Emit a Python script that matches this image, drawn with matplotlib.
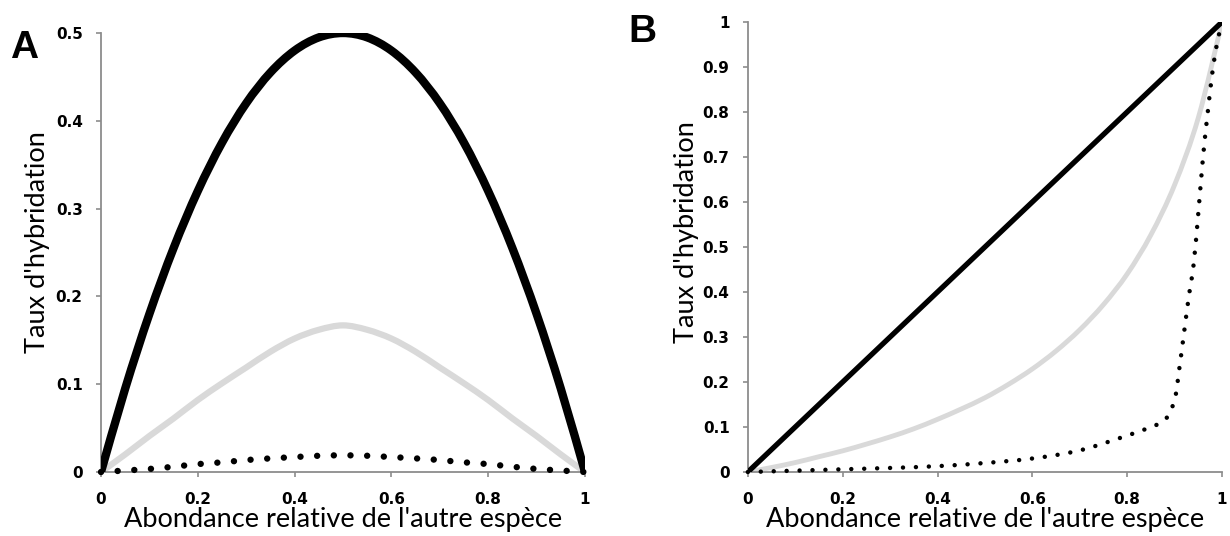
import matplotlib.pyplot as plt
from matplotlib.path import Path
from matplotlib.patches import PathPatch

# Panel A: hybridization rate vs relative abundance (x step 0.05)
x_a = [0, 0.05, 0.1, 0.15, 0.2, 0.25, 0.3, 0.35, 0.4, 0.45, 0.5,
       0.55, 0.6, 0.65, 0.7, 0.75, 0.8, 0.85, 0.9, 0.95, 1]
black_a = [0, 0.095, 0.18, 0.255, 0.32, 0.375, 0.42, 0.455, 0.48, 0.495, 0.5,
           0.495, 0.48, 0.455, 0.42, 0.375, 0.32, 0.255, 0.18, 0.095, 0]
gray_a = [0, 0.020, 0.041, 0.061, 0.082, 0.101, 0.119, 0.137, 0.152, 0.162, 0.167,
          0.162, 0.152, 0.137, 0.119, 0.101, 0.082, 0.061, 0.041, 0.020, 0]
dot_a = [0, 0.0017, 0.0035, 0.006, 0.009, 0.011, 0.0136, 0.0155, 0.017, 0.0185, 0.019,
         0.0185, 0.017, 0.0155, 0.0136, 0.011, 0.009, 0.006, 0.0035, 0.0017, 0]

# Panel B
x_b = [0, 0.05, 0.1, 0.15, 0.2, 0.25, 0.3, 0.35, 0.4, 0.45, 0.5,
       0.55, 0.6, 0.65, 0.7, 0.75, 0.8, 0.85, 0.9, 0.95, 1]
black_b = [0, 0.05, 0.1, 0.15, 0.2, 0.25, 0.3, 0.35, 0.4, 0.45, 0.5,
           0.55, 0.6, 0.65, 0.7, 0.75, 0.8, 0.85, 0.9, 0.95, 1]
gray_b = [0, 0.010, 0.021, 0.034, 0.047, 0.062, 0.078, 0.096, 0.117, 0.140, 0.165,
          0.195, 0.229, 0.269, 0.316, 0.372, 0.44, 0.527, 0.638, 0.787, 1]
x_dot_b = [0, 0.1, 0.2, 0.3, 0.4, 0.5, 0.6, 0.7, 0.8, 0.85, 0.88, 0.9, 0.91,
           0.92, 0.93, 0.94, 0.95, 0.96, 0.97, 0.98, 0.99, 1.0]
dot_b = [0, 0.003, 0.006, 0.009, 0.013, 0.02, 0.030, 0.048, 0.081, 0.100, 0.116,
         0.16, 0.23, 0.31, 0.39, 0.46, 0.575, 0.70, 0.80, 0.89, 0.955, 1.0]

ticks_a_y = [0, 0.1, 0.2, 0.3, 0.4, 0.5]
ticks_b_y = [0, 0.1, 0.2, 0.3, 0.4, 0.5, 0.6, 0.7, 0.8, 0.9, 1]
ticks_x = [0, 0.2, 0.4, 0.6, 0.8, 1]

fig = plt.figure(figsize=(12.3, 5.36), dpi=100)
ax_a = fig.add_axes([0.0821, 0.1194, 0.3935, 0.819])
ax_b = fig.add_axes([0.608, 0.1194, 0.3855, 0.8396])

GRAY = '#d9d9d9'
label_font = dict(family='Lato', fontsize=19.5)


def smooth_line(ax, xs, ys, **kw):
    # Excel-like "smoothed line": cubic bezier through the points
    pts = list(zip(xs, ys))
    n = len(pts)
    verts = [pts[0]]
    codes = [Path.MOVETO]
    for i in range(n - 1):
        p0 = pts[max(i - 1, 0)]
        p1 = pts[i]
        p2 = pts[i + 1]
        p3 = pts[min(i + 2, n - 1)]
        c1 = (p1[0] + (p2[0] - p0[0]) / 6, p1[1] + (p2[1] - p0[1]) / 6)
        c2 = (p2[0] - (p3[0] - p1[0]) / 6, p2[1] - (p3[1] - p1[1]) / 6)
        verts += [c1, c2, p2]
        codes += [Path.CURVE4] * 3
    patch = PathPatch(Path(verts, codes), fill=False, **kw)
    ax.add_patch(patch)
    return patch


def fmt(v):
    return '0' if v == 0 else ('1' if v == 1 else f'{v:g}')


def style(ax, yticks, ylab_x, ylab_y):
    for s in ['top', 'right']:
        ax.spines[s].set_visible(False)
    for s in ['left', 'bottom']:
        ax.spines[s].set_color('#8c8c8c')
        ax.spines[s].set_linewidth(1.3)
    ax.set_xlim(0, 1)
    ax.set_ylim(0, yticks[-1])
    ax.set_xticks(ticks_x)
    ax.set_xticklabels([fmt(v) for v in ticks_x])
    ax.set_yticks(yticks)
    ax.set_yticklabels([fmt(v) for v in yticks])
    ax.tick_params(direction='out', length=3.7, width=1.2, color='#8c8c8c',
                   labelsize=11)
    ax.tick_params(axis='y', pad=9.5)
    ax.tick_params(axis='x', pad=10.5)
    for lab in ax.get_xticklabels() + ax.get_yticklabels():
        lab.set_fontfamily('DejaVu Sans')
        lab.set_fontweight('bold')
    ax.set_xlabel("Abondance relative de l'autre espèce", labelpad=0, **label_font)
    ax.set_ylabel("Taux d'hybridation", **label_font)
    ax.yaxis.set_label_coords(ylab_x, ylab_y)


# Panel A
smooth_line(ax_a, x_a, black_a, edgecolor='black', lw=6, capstyle='round', zorder=3)
smooth_line(ax_a, x_a, gray_a, edgecolor=GRAY, lw=4.5, capstyle='round', zorder=2)
smooth_line(ax_a, x_a, dot_a, edgecolor='black', lw=4.6, linestyle=(0, (0.01, 2.6)),
            capstyle='round', zorder=4, clip_on=False)
style(ax_a, ticks_a_y, -0.106, 0.524)

# Panel B
smooth_line(ax_b, x_b, black_b, edgecolor='black', lw=3.8, capstyle='round', zorder=3)
smooth_line(ax_b, x_b, gray_b, edgecolor=GRAY, lw=3.5, capstyle='round', zorder=2)
smooth_line(ax_b, x_dot_b, dot_b, edgecolor='black', lw=3.2, linestyle=(0, (0.01, 2.9)),
            capstyle='round', zorder=4, clip_on=False)
style(ax_b, ticks_b_y, -0.104, 0.533)

fig.text(0.008, 0.892, 'A', fontsize=28, fontweight='bold', family='Liberation Sans')
fig.text(0.5106, 0.9216, 'B', fontsize=28, fontweight='bold', family='Liberation Sans')

fig.savefig('out.png', dpi=100)
